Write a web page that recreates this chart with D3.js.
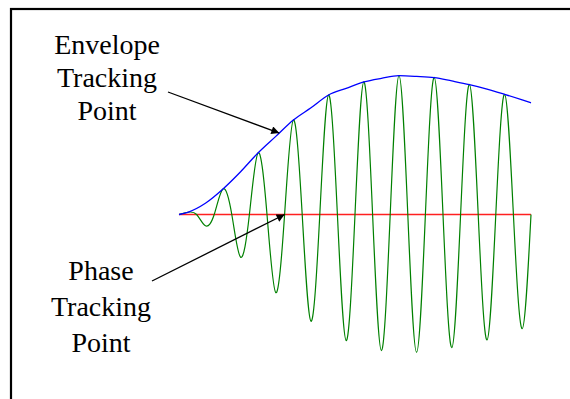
<!DOCTYPE html>
<html>
<head>
<meta charset="utf-8">
<script src="https://cdn.jsdelivr.net/npm/d3@7"></script>
<style>
  html, body { margin: 0; padding: 0; background: #fff; }
  svg { display: block; }
</style>
</head>
<body>
<svg id="chart" width="570" height="399"></svg>
<script>
// Time axis in carrier cycles, amplitude normalised to the envelope maximum.
const waveTimes = [0, 0.25, 0.5, 0.75, 1, 1.25, 1.5, 1.75, 2, 2.25, 2.5, 2.75, 3, 3.25, 3.5, 3.75,
  4, 4.25, 4.5, 4.75, 5, 5.25, 5.5, 5.75, 6, 6.25, 6.5, 6.75, 7, 7.25, 7.5, 7.75,
  8, 8.25, 8.5, 8.75, 9, 9.25, 9.5, 9.75, 10];
const waveValues = [0, 0.016, 0, -0.081, 0, 0.184, 0, -0.308, 0, 0.445, 0, -0.563, 0, 0.681, 0, -0.769,
  0, 0.861, 0, -0.909, 0, 0.955, 0, -0.981, 0, 1.0, 0, -0.993, 0, 0.988, 0, -0.960,
  0, 0.938, 0, -0.904, 0, 0.866, 0, -0.823, 0];

// Envelope of the burst
const envTimes = [0, 0.25, 0.75, 1.25, 1.75, 2.25, 2.75, 3.25, 3.75, 4.25, 4.75,
  5.25, 5.75, 6.25, 6.75, 7.25, 7.75, 8.25, 8.75, 9.25, 9.75, 10];
const envValues = [0, 0.016, 0.081, 0.184, 0.308, 0.445, 0.563, 0.681, 0.769, 0.861, 0.909,
  0.955, 0.981, 1.0, 0.995, 0.986, 0.962, 0.936, 0.904, 0.866, 0.826, 0.805];

// Phase reference line
const phaseTimes = [0, 10];
const phaseValues = [0, 0];

const envelopeLabel = ["Envelope", "Tracking", "Point"];
const phaseLabel = ["Phase", "Tracking", "Point"];
const envelopeArrowTime = 2.85;   // where the arrow meets the envelope
const phaseArrowTime = 3.0;       // where the arrow meets the phase line

const svg = d3.select("#chart");

const x = d3.scaleLinear().domain([0, 10]).range([179, 531]);
const y = d3.scaleLinear().domain([-1, 1]).range([353.3, 75.7]);

// frame
svg.append("rect")
  .attr("x", 11).attr("y", 9)
  .attr("width", 600).attr("height", 420)
  .attr("fill", "none").attr("stroke", "#000").attr("stroke-width", 2.2);

const defs = svg.append("defs");
defs.append("marker")
  .attr("id", "head")
  .attr("viewBox", "0 0 10 10")
  .attr("refX", 10).attr("refY", 5)
  .attr("markerWidth", 11).attr("markerHeight", 8)
  .attr("markerUnits", "userSpaceOnUse")
  .attr("orient", "auto")
  .append("path")
  .attr("d", "M0,0 L10,5 L0,10 Z")
  .attr("fill", "#000");

const line = d3.line().x(d => x(d[0])).y(d => y(d[1]));

// phase line
svg.append("path")
  .datum(d3.zip(phaseTimes, phaseValues))
  .attr("d", line)
  .attr("fill", "none").attr("stroke", "#ff2020").attr("stroke-width", 1.5);

// carrier
svg.append("path")
  .datum(d3.zip(waveTimes, waveValues))
  .attr("d", line.curve(d3.curveNatural))
  .attr("fill", "none").attr("stroke", "#008000").attr("stroke-width", 1.2);

// envelope
svg.append("path")
  .datum(d3.zip(envTimes, envValues))
  .attr("d", d3.line().x(d => x(d[0])).y(d => y(d[1])).curve(d3.curveMonotoneX))
  .attr("fill", "none").attr("stroke", "#0000ff").attr("stroke-width", 1.3);

// labels
function label(lines, cx, baselines) {
  const t = svg.append("text")
    .attr("font-family", "'Liberation Serif', 'Times New Roman', serif")
    .attr("font-size", 28)
    .attr("fill", "#000")
    .attr("text-anchor", "middle");
  lines.forEach((s, i) => t.append("tspan").attr("x", cx).attr("y", baselines[i]).text(s));
}
label(envelopeLabel, 107, [54, 87, 120]);
label(phaseLabel, 101, [280, 316, 352]);

// arrows
const envInterp = d3.scaleLinear().domain(envTimes).range(envValues);
svg.append("line")
  .attr("x1", 168).attr("y1", 92)
  .attr("x2", x(envelopeArrowTime)).attr("y2", y(envInterp(envelopeArrowTime)))
  .attr("stroke", "#000").attr("stroke-width", 1.3)
  .attr("marker-end", "url(#head)");
svg.append("line")
  .attr("x1", 152).attr("y1", 281)
  .attr("x2", x(phaseArrowTime)).attr("y2", y(0))
  .attr("stroke", "#000").attr("stroke-width", 1.3)
  .attr("marker-end", "url(#head)");
</script>
</body>
</html>
